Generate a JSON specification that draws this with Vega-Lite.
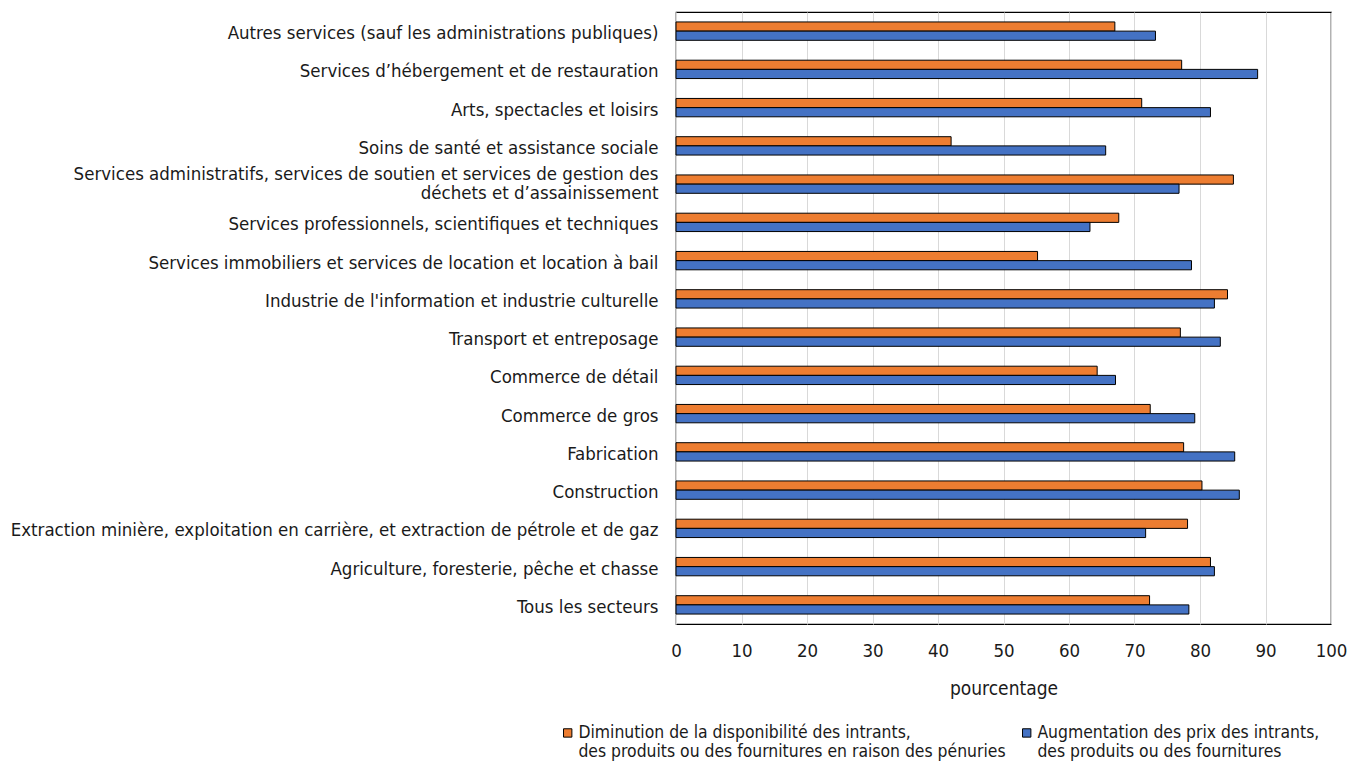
{
  "$schema": "https://vega.github.io/schema/vega-lite/v6.json",
  "autosize": {"type": "none"},
  "padding": {"left": 676, "top": 12, "right": 18, "bottom": 139},
  "width": 655,
  "height": 612,
  "config": {
    "font": "DejaVu Sans Condensed, Roboto, sans-serif",
    "view": {"stroke": "#000000", "strokeWidth": 1.2},
    "axis": {"labelFont": "DejaVu Sans Condensed, Roboto, sans-serif", "titleFont": "DejaVu Sans Condensed, Roboto, sans-serif", "labelColor": "#1a1a1a", "titleColor": "#1a1a1a"},
    "legend": {"labelFont": "DejaVu Sans Condensed, Roboto, sans-serif"}
  },
  "data": {
    "values": [
      {"secteur": "Autres services (sauf les administrations publiques)", "serie": "Diminution", "valeur": 67.0},
      {"secteur": "Autres services (sauf les administrations publiques)", "serie": "Augmentation", "valeur": 73.2},
      {"secteur": "Services d’hébergement et de restauration", "serie": "Diminution", "valeur": 77.2},
      {"secteur": "Services d’hébergement et de restauration", "serie": "Augmentation", "valeur": 88.8},
      {"secteur": "Arts, spectacles et loisirs", "serie": "Diminution", "valeur": 71.1},
      {"secteur": "Arts, spectacles et loisirs", "serie": "Augmentation", "valeur": 81.6},
      {"secteur": "Soins de santé et assistance sociale", "serie": "Diminution", "valeur": 42.0},
      {"secteur": "Soins de santé et assistance sociale", "serie": "Augmentation", "valeur": 65.6},
      {"secteur": "Services administratifs, services de soutien et services de gestion des déchets et d’assainissement", "serie": "Diminution", "valeur": 85.1},
      {"secteur": "Services administratifs, services de soutien et services de gestion des déchets et d’assainissement", "serie": "Augmentation", "valeur": 76.8},
      {"secteur": "Services professionnels, scientifiques et techniques", "serie": "Diminution", "valeur": 67.6},
      {"secteur": "Services professionnels, scientifiques et techniques", "serie": "Augmentation", "valeur": 63.2},
      {"secteur": "Services immobiliers et services de location et location à bail", "serie": "Diminution", "valeur": 55.2},
      {"secteur": "Services immobiliers et services de location et location à bail", "serie": "Augmentation", "valeur": 78.7},
      {"secteur": "Industrie de l'information et industrie culturelle", "serie": "Diminution", "valeur": 84.2},
      {"secteur": "Industrie de l'information et industrie culturelle", "serie": "Augmentation", "valeur": 82.2},
      {"secteur": "Transport et entreposage", "serie": "Diminution", "valeur": 77.0},
      {"secteur": "Transport et entreposage", "serie": "Augmentation", "valeur": 83.1},
      {"secteur": "Commerce de détail", "serie": "Diminution", "valeur": 64.3},
      {"secteur": "Commerce de détail", "serie": "Augmentation", "valeur": 67.1},
      {"secteur": "Commerce de gros", "serie": "Diminution", "valeur": 72.4},
      {"secteur": "Commerce de gros", "serie": "Augmentation", "valeur": 79.2},
      {"secteur": "Fabrication", "serie": "Diminution", "valeur": 77.5},
      {"secteur": "Fabrication", "serie": "Augmentation", "valeur": 85.3},
      {"secteur": "Construction", "serie": "Diminution", "valeur": 80.3},
      {"secteur": "Construction", "serie": "Augmentation", "valeur": 86.0},
      {"secteur": "Extraction minière, exploitation en carrière, et extraction de pétrole et de gaz", "serie": "Diminution", "valeur": 78.1},
      {"secteur": "Extraction minière, exploitation en carrière, et extraction de pétrole et de gaz", "serie": "Augmentation", "valeur": 71.7},
      {"secteur": "Agriculture, foresterie, pêche et chasse", "serie": "Diminution", "valeur": 81.6},
      {"secteur": "Agriculture, foresterie, pêche et chasse", "serie": "Augmentation", "valeur": 82.2},
      {"secteur": "Tous les secteurs", "serie": "Diminution", "valeur": 72.3},
      {"secteur": "Tous les secteurs", "serie": "Augmentation", "valeur": 78.3}
    ]
  },
  "mark": {"type": "bar", "stroke": "#000000", "strokeWidth": 1},
  "encoding": {
    "y": {
      "field": "secteur",
      "type": "nominal",
      "sort": null,
      "scale": {"paddingInner": 0.52, "paddingOuter": 0.26},
      "axis": {
        "title": null,
        "ticks": false,
        "domain": false,
        "labelFontSize": 18.5,
        "labelPadding": 18,
        "labelLimit": 0,
        "labelLineHeight": 19,
        "labelOffset": {"condition": {"test": "indexof(datum.value, 'gestion des d') >= 0", "value": -10}, "value": 2},
        "labelExpr": "indexof(datum.label, 'gestion des d') >= 0 ? ['Services administratifs, services de soutien et services de gestion des', 'déchets et d’assainissement'] : datum.label"
      }
    },
    "yOffset": {"field": "serie", "type": "nominal", "sort": ["Diminution", "Augmentation"]},
    "x": {
      "field": "valeur",
      "type": "quantitative",
      "scale": {"domain": [0, 100]},
      "axis": {
        "title": "pourcentage",
        "values": [0, 10, 20, 30, 40, 50, 60, 70, 80, 90, 100],
        "ticks": false,
        "domain": false,
        "grid": true,
        "gridColor": "#d9d9d9",
        "labelFlush": false,
        "labelFontSize": 18.5,
        "labelPadding": 17,
        "titleFontSize": 19,
        "titleFontWeight": "normal",
        "titlePadding": 20
      }
    },
    "color": {
      "field": "serie",
      "type": "nominal",
      "sort": ["Diminution", "Augmentation"],
      "scale": {"domain": ["Diminution", "Augmentation"], "range": ["#ED7D31", "#4472C4"]},
      "legend": {
        "title": null,
        "orient": "none",
        "legendX": -117,
        "legendY": 712,
        "direction": "horizontal",
        "columns": 2,
        "columnPadding": 12,
        "symbolType": "square",
        "symbolSize": 70,
        "symbolStrokeColor": "#000000",
        "symbolStrokeWidth": 1,
        "labelFontSize": 17.4,
        "labelColor": "#1a1a1a",
        "labelLimit": 0,
        "labelOffset": 2,
        "labelLineHeight": 18,
        "labelBaseline": "middle",
        "labelExpr": "datum.label == 'Diminution' ? ['Diminution de la disponibilité des intrants,', 'des produits ou des fournitures en raison des pénuries'] : ['Augmentation des prix des intrants,', 'des produits ou des fournitures']"
      }
    }
  }
}
